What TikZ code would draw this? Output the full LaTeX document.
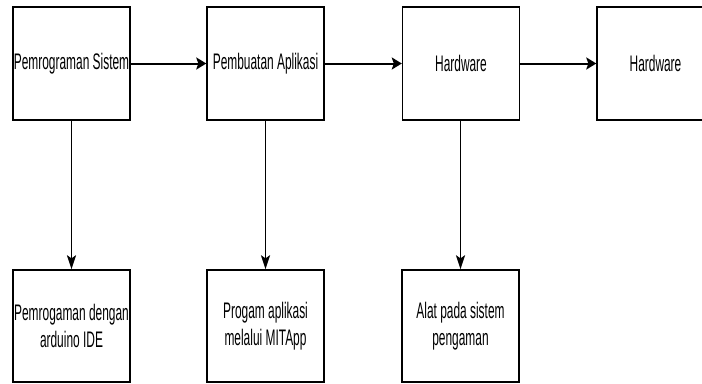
\documentclass[tikz,border=0pt]{standalone}
\usepackage{fontspec}
\usetikzlibrary{arrows.meta}
\newfontfamily\boxfont[FakeStretch=0.53]{Liberation Sans}
\tikzset{
  stagebox/.style={draw=black, line width=1.4bp, fill=white, rectangle,
    minimum width=117bp, minimum height=113bp, inner sep=0pt, align=center,
    font=\boxfont\fontsize{22.5bp}{27bp}\selectfont},
  flowright/.style={line width=2bp, -{Stealth[length=10bp,width=12bp,inset=2bp]}},
  flowdown/.style={line width=1.7bp, -{Stealth[length=14bp,width=9bp,inset=3bp]}}
}
\begin{document}
\begin{tikzpicture}[x=1bp, y=-1bp]
  \useasboundingbox (0,0) rectangle (702,383);
  % upper row of stages
  \node[stagebox] (sys)  at (71.5, 63.5) {Pemrograman Sistem};
  \node[stagebox] (app)  at (265.5,63.5) {Pembuatan Aplikasi};
  \node[stagebox] (hw1)  at (461,  63.5) {Hardware};
  \node[stagebox] (hw2)  at (655.5,63.5) {Hardware};
  % lower row of details
  \node[stagebox, minimum height=112bp] (ide) at (71.5, 326) {Pemrogaman dengan\\arduino IDE};
  \node[stagebox, minimum height=112bp] (mit) at (265.5,326) {Progam aplikasi\\melalui MITApp};
  \node[stagebox, minimum height=112bp] (alat) at (460.5,326) {Alat pada sistem\\pengaman};
  % connectors
  \draw[flowright] (sys) -- (app);
  \draw[flowright] (app) -- (hw1);
  \draw[flowright] (hw1) -- (hw2);
  \draw[flowdown] (sys.south) -- (ide.north);
  \draw[flowdown] (app.south) -- (mit.north);
  \draw[flowdown] (hw1.south -| alat.north) -- (alat.north);
\end{tikzpicture}
\end{document}
